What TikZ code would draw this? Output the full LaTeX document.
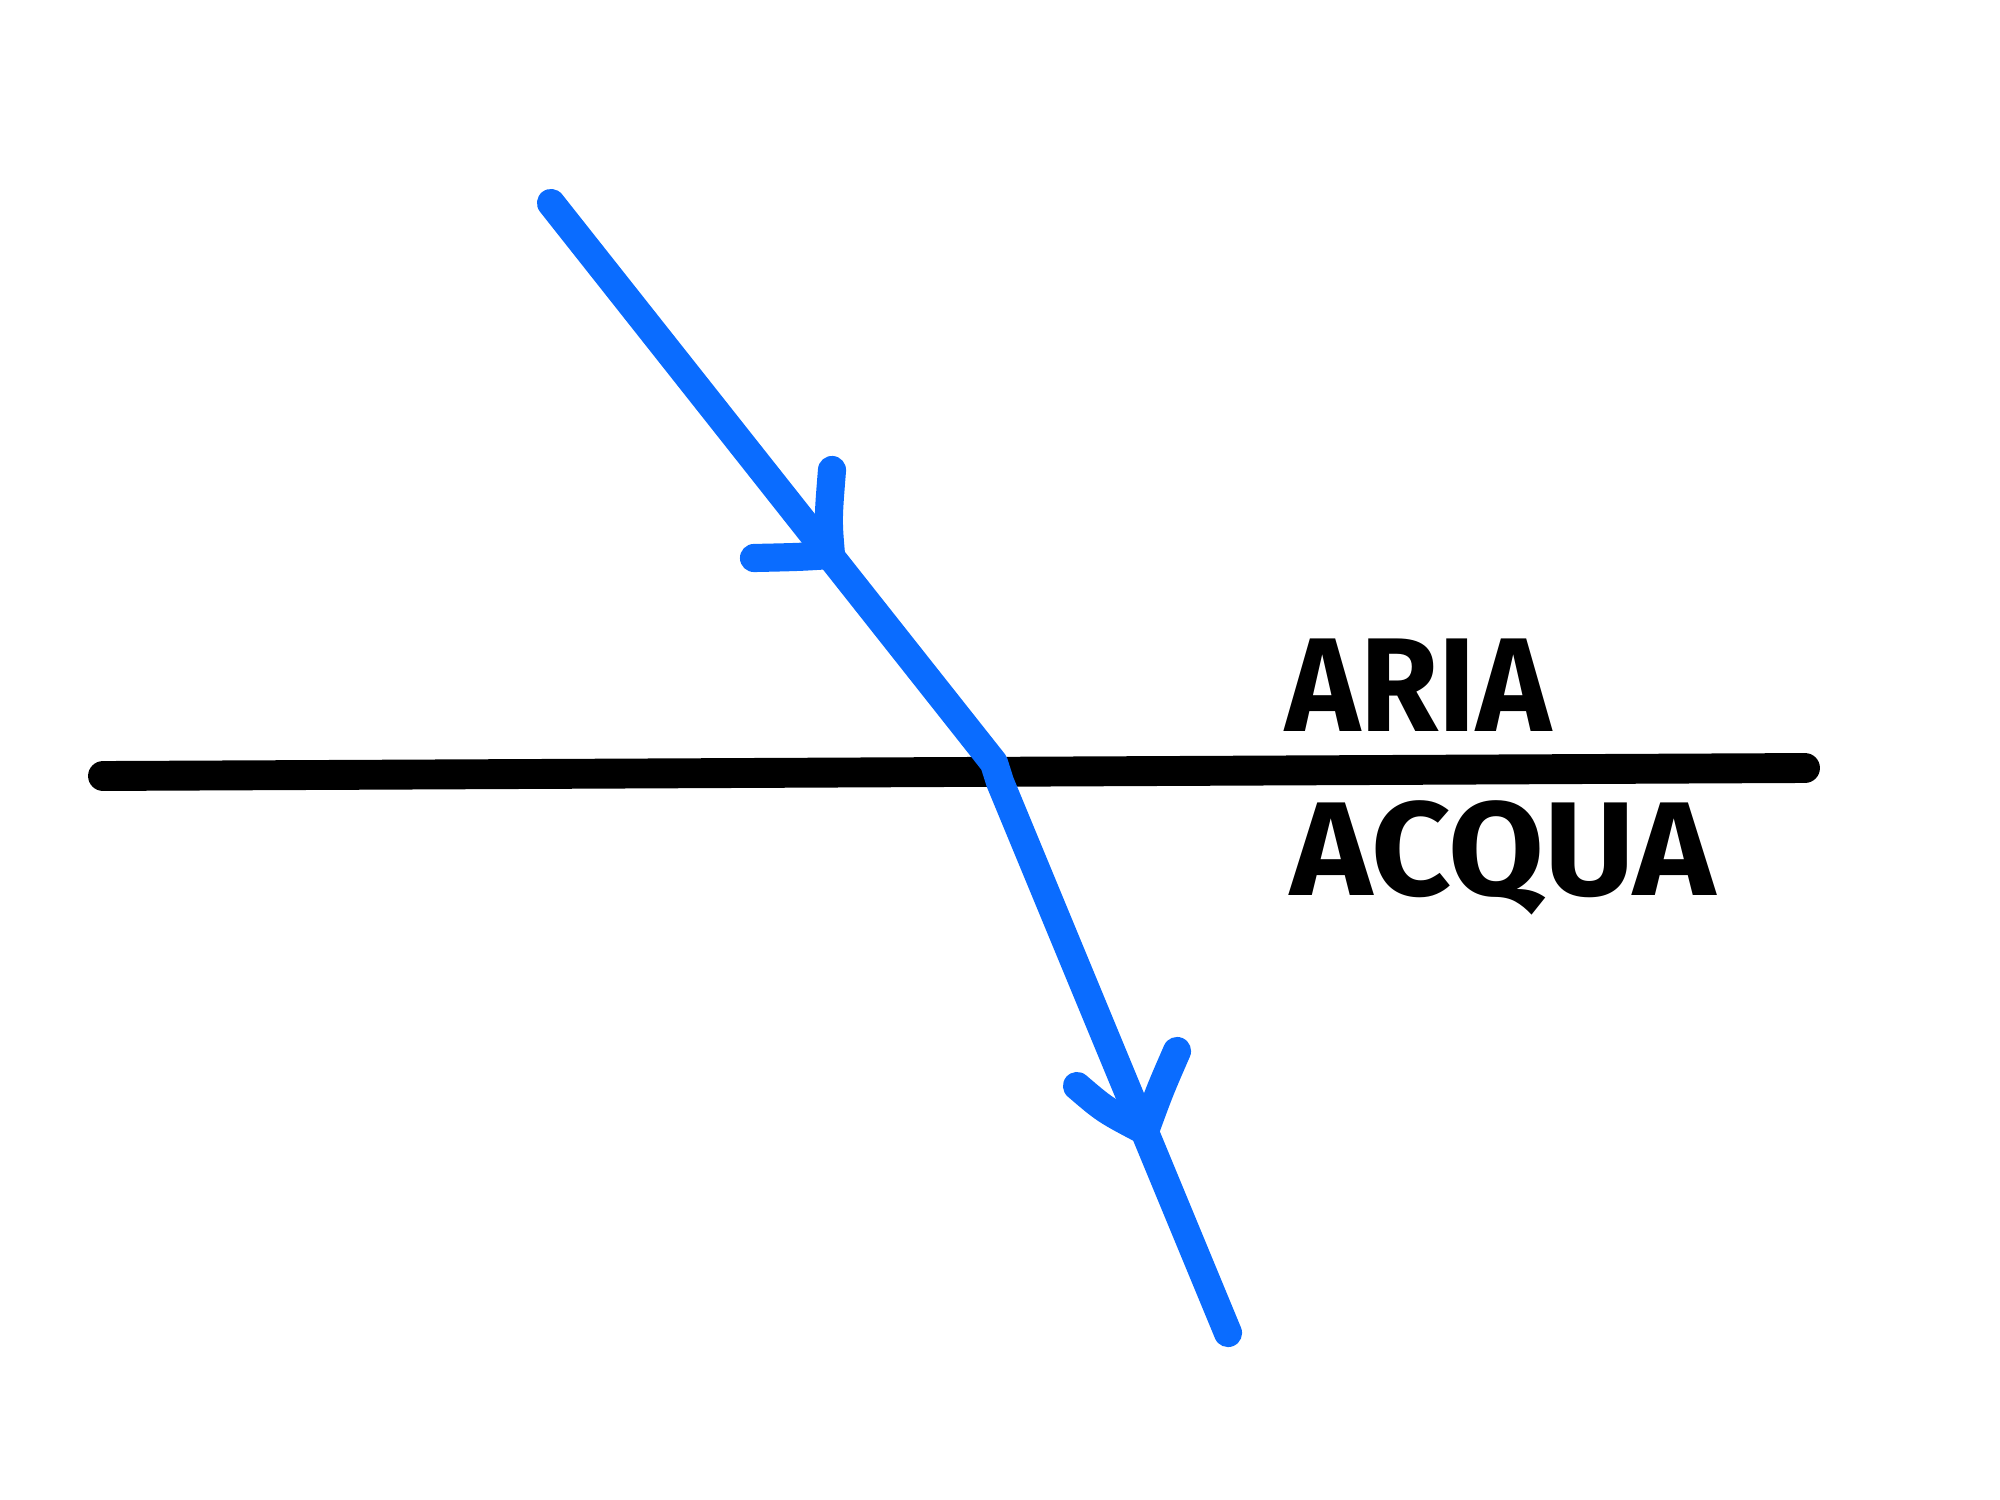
\documentclass[tikz,border=0pt]{standalone}
\usepackage{fontspec}
\setmainfont{Fira Sans}
\usetikzlibrary{arrows}

\definecolor{raggio}{RGB}{10,108,255}

\begin{document}
\begin{tikzpicture}[x = 0.01cm, y = -0.01cm]
\tikzstyle{RayStyle}=[
draw = raggio,
line width = 8pt,
line cap = round,
line join = round]
\tikzstyle{BorderStyle}=[
draw = black,
line width = 8.5pt,
line cap = round]
\tikzstyle{LabelStyle}=[
anchor = base west,
inner sep = 0pt,
font = \fontsize{38}{40}\selectfont\bfseries]
\useasboundingbox (0, 0) rectangle (2000, 1500);
\coordinate (s1) at (103, 776);
\coordinate (s2) at (1805, 768);
\coordinate (r0) at (551, 203);
\coordinate (r1) at (994, 763);
\coordinate (r2) at (1000, 782);
\coordinate (r3) at (1228, 1333);
\coordinate (t1) at (831, 555);
\coordinate (t2) at (1145, 1131);
\node[LabelStyle, xscale = 0.95] (aria) at (1285, 731) {ARIA};
\node[LabelStyle, xscale = 1.04] (acqua) at (1290, 895) {ACQUA};
\path[BorderStyle] (s1) -- (s2);
\path[RayStyle] (r0) -- (r1) -- (r2) -- (r3);
\path[RayStyle] (t1) .. controls (828, 520) .. (832, 470);
\path[RayStyle] (t1) .. controls (800, 557) .. (754, 558);
\path[RayStyle] (t2) .. controls (1160, 1090) .. (1177, 1051);
\path[RayStyle] (t2) .. controls (1105, 1110) .. (1077, 1086);
\end{tikzpicture}
\end{document}
